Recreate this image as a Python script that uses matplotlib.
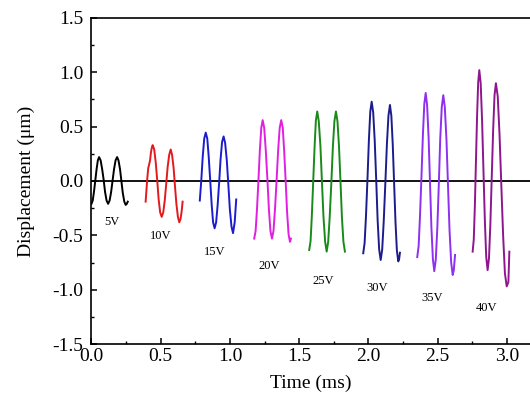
import matplotlib
matplotlib.use("Agg")
import matplotlib.pyplot as plt
import matplotlib.ticker as mtick

plt.rcParams["font.family"] = ["Liberation Serif", "DejaVu Serif"]
plt.rcParams["axes.unicode_minus"] = False

# displacement traces, one per drive voltage
t_5v = [0.000, 0.009, 0.018, 0.028, 0.037, 0.046, 0.055, 0.066, 0.077, 0.088, 0.098, 0.109, 0.120, 0.131,
        0.142, 0.153, 0.163, 0.174, 0.185, 0.195, 0.206, 0.216, 0.226, 0.237, 0.247, 0.255, 0.262]
d_5v = [-0.21, -0.18, -0.10, 0.01, 0.11, 0.19, 0.22, 0.19, 0.11, 0.01, -0.10, -0.18, -0.21, -0.18,
        -0.10, 0.01, 0.11, 0.19, 0.22, 0.19, 0.11, 0.00, -0.11, -0.19, -0.22, -0.21, -0.19]

t_10v = [0.391, 0.397, 0.404, 0.410, 0.416, 0.423, 0.429, 0.436, 0.442, 0.453, 0.464, 0.475, 0.485, 0.496, 0.507,
         0.518, 0.529, 0.540, 0.550, 0.561, 0.572, 0.582, 0.593, 0.603, 0.613, 0.624, 0.634, 0.643, 0.651, 0.658]
d_10v = [-0.19, -0.08, 0.04, 0.12, 0.15, 0.19, 0.26, 0.31, 0.33, 0.29, 0.17, 0.00, -0.17, -0.29, -0.33,
         -0.29, -0.18, -0.02, 0.13, 0.24, 0.29, 0.24, 0.12, -0.05, -0.21, -0.33, -0.38, -0.35, -0.28, -0.19]

t_15v = [0.782, 0.793, 0.803, 0.814, 0.825, 0.836, 0.846, 0.857, 0.868, 0.878, 0.889, 0.900, 0.911,
         0.922, 0.932, 0.943, 0.954, 0.965, 0.977, 0.988, 0.999, 1.011, 1.022, 1.034, 1.045]
d_15v = [-0.18, 0.01, 0.22, 0.39, 0.445, 0.39, 0.23, 0.01, -0.22, -0.38, -0.435, -0.38, -0.22,
         -0.01, 0.20, 0.36, 0.41, 0.35, 0.19, -0.03, -0.26, -0.42, -0.48, -0.38, -0.17]

t_20v = [1.175, 1.185, 1.195, 1.206, 1.216, 1.226, 1.236, 1.247, 1.258, 1.270, 1.281, 1.292, 1.303,
         1.314, 1.325, 1.337, 1.348, 1.359, 1.370, 1.381, 1.391, 1.402, 1.412, 1.423, 1.433, 1.440]
d_20v = [-0.53, -0.46, -0.26, 0.02, 0.29, 0.49, 0.56, 0.49, 0.29, 0.02, -0.26, -0.46, -0.53,
         -0.46, -0.26, 0.02, 0.29, 0.49, 0.56, 0.49, 0.28, 0.00, -0.28, -0.49, -0.56, -0.53]

t_25v = [1.572, 1.582, 1.591, 1.601, 1.611, 1.620, 1.630, 1.641, 1.653, 1.664, 1.675, 1.687, 1.698,
         1.709, 1.720, 1.732, 1.743, 1.754, 1.765, 1.776, 1.787, 1.798, 1.808, 1.819, 1.830]
d_25v = [-0.635, -0.55, -0.32, 0.00, 0.32, 0.555, 0.64, 0.55, 0.32, -0.01, -0.33, -0.56, -0.65,
         -0.56, -0.33, -0.01, 0.32, 0.55, 0.64, 0.55, 0.32, -0.01, -0.33, -0.56, -0.65]

t_30v = [1.962, 1.972, 1.982, 1.993, 2.003, 2.013, 2.023, 2.034, 2.045, 2.056, 2.066, 2.077, 2.088, 2.099,
         2.110, 2.122, 2.133, 2.144, 2.155, 2.165, 2.175, 2.185, 2.195, 2.205, 2.215, 2.221, 2.227]
d_30v = [-0.665, -0.57, -0.32, 0.03, 0.38, 0.64, 0.73, 0.63, 0.37, 0.00, -0.36, -0.63, -0.727, -0.63,
         -0.37, -0.01, 0.34, 0.60, 0.70, 0.60, 0.34, -0.02, -0.38, -0.64, -0.74, -0.72, -0.66]

t_35v = [2.352, 2.362, 2.372, 2.383, 2.393, 2.403, 2.413, 2.423, 2.434, 2.444, 2.454, 2.465, 2.475, 2.486,
         2.497, 2.508, 2.518, 2.529, 2.540, 2.551, 2.563, 2.574, 2.585, 2.597, 2.608, 2.616, 2.625]
d_35v = [-0.70, -0.60, -0.32, 0.06, 0.43, 0.71, 0.81, 0.70, 0.40, -0.01, -0.42, -0.72, -0.83, -0.72,
         -0.43, -0.02, 0.39, 0.68, 0.79, 0.68, 0.38, -0.04, -0.45, -0.75, -0.865, -0.82, -0.68]

t_40v = [2.752, 2.760, 2.768, 2.776, 2.784, 2.792, 2.800, 2.810, 2.820, 2.830, 2.840, 2.850, 2.860, 2.870,
         2.880, 2.890, 2.900, 2.910, 2.920, 2.933, 2.946, 2.959, 2.972, 2.985, 2.998, 3.010, 3.017]
d_40v = [-0.65, -0.54, -0.23, 0.19, 0.60, 0.91, 1.02, 0.90, 0.56, 0.10, -0.36, -0.70, -0.82, -0.71,
         -0.39, 0.04, 0.47, 0.79, 0.90, 0.78, 0.43, -0.04, -0.50, -0.85, -0.97, -0.93, -0.65]

voltages = ["5V", "10V", "15V", "20V", "25V", "30V", "35V", "40V"]
times = [t_5v, t_10v, t_15v, t_20v, t_25v, t_30v, t_35v, t_40v]
disps = [d_5v, d_10v, d_15v, d_20v, d_25v, d_30v, d_35v, d_40v]

# where each voltage label sits (data coords)
label_t = [0.145, 0.500, 0.890, 1.283, 1.670, 2.065, 2.458, 2.855]
label_d = [-0.375, -0.505, -0.65, -0.78, -0.92, -0.985, -1.075, -1.165]

colors = ["#000000", "#e3191c", "#1c1ccf", "#e01fe0", "#1a8a1a", "#1c1c8c", "#8f2ff0", "#8e168e"]

fig = plt.figure(figsize=(5.3, 4.05), dpi=100)
ax = fig.add_axes([0.1726, 0.1506, 1.0 - 0.1726, 0.805])

ax.axhline(0, color="black", lw=1.3, zorder=1)
for t, d, c in zip(times, disps, colors):
    ax.plot(t, d, color=c, lw=1.4, zorder=2)
for lab, lt, ld in zip(voltages, label_t, label_d):
    ax.text(lt, ld, lab, fontsize=9, ha="center", va="center")

ax.set_xlim(0, (530 - 91.5) / 138.5)
ax.set_ylim(-1.5, 1.5)
ax.spines["right"].set_visible(False)
for s in ax.spines.values():
    s.set_linewidth(1.2)

ax.xaxis.set_major_locator(mtick.MultipleLocator(0.5))
ax.xaxis.set_minor_locator(mtick.MultipleLocator(0.25))
ax.yaxis.set_major_locator(mtick.MultipleLocator(0.5))
ax.yaxis.set_minor_locator(mtick.MultipleLocator(0.25))
ax.xaxis.set_major_formatter(mtick.FormatStrFormatter("%.1f"))
ax.yaxis.set_major_formatter(mtick.FormatStrFormatter("%.1f"))
ax.tick_params(which="both", direction="in", top=False, right=False, labelsize=14)
ax.tick_params(which="major", length=4.5, width=1.1)
ax.tick_params(which="minor", length=2.5, width=1.0)
ax.tick_params(axis="x", pad=3)
ax.tick_params(axis="y", pad=6)

ax.set_xlabel("Time (ms)", fontsize=14, labelpad=7)
ax.set_ylabel("Displacement (\u03bcm)", fontsize=14, labelpad=12)

fig.savefig("out.png", dpi=100)
